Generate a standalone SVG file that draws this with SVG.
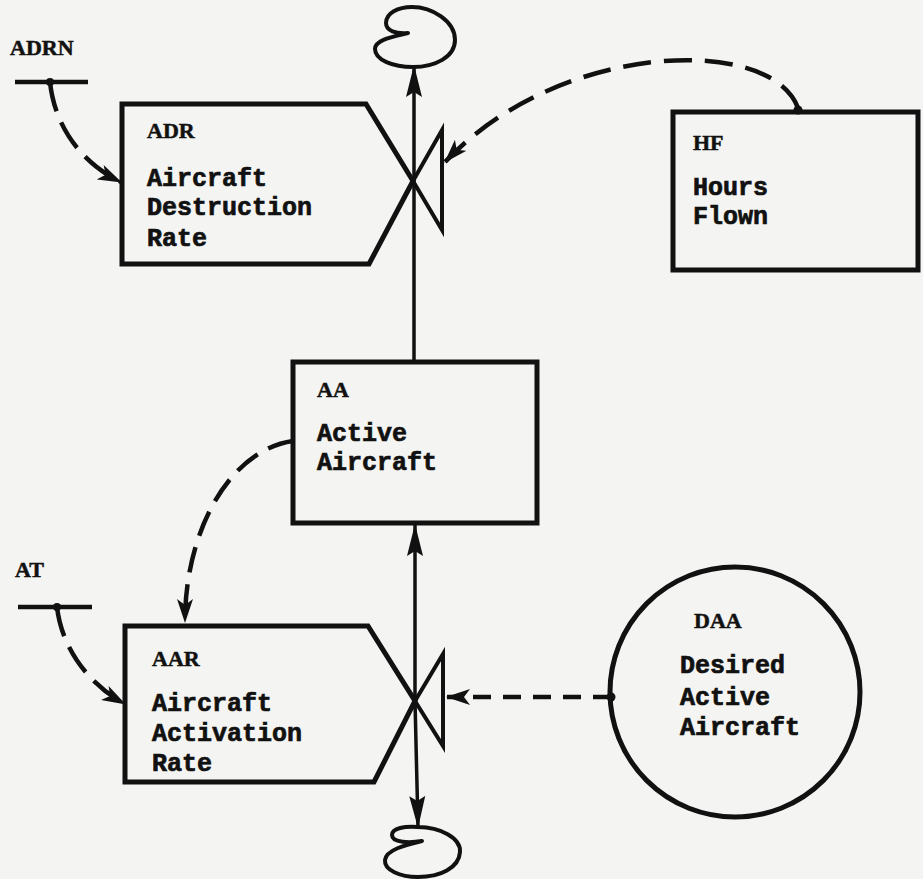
<svg xmlns="http://www.w3.org/2000/svg" width="923" height="879" viewBox="0 0 923 879">
  <style>
    .box { fill: none; stroke: #111; stroke-width: 5; stroke-linejoin: miter; }
    .valve { fill: none; stroke: #111; stroke-width: 4; stroke-linejoin: miter; }
    .flow { fill: none; stroke: #111; stroke-width: 3.5; }
    .info { fill: none; stroke: #111; stroke-width: 4.5; stroke-dasharray: 26 12; }
    .src { fill: none; stroke: #111; stroke-width: 4.5; }
    .cloud { fill: none; stroke: #111; stroke-width: 4; stroke-linejoin: round; }
    .dot { fill: #111; }
    .tag { font-family: "Liberation Serif", "Times New Roman", serif; font-weight: bold; font-size: 22px; fill: #111; stroke: #111; stroke-width: 0.5; }
    .desc { font-family: "Liberation Mono", "Courier New", monospace; font-weight: bold; font-size: 25px; fill: #111; stroke: #111; stroke-width: 0.7; }
  </style>
  <defs>
    <marker id="flowHead" viewBox="0 0 32 18" refX="31" refY="9" markerWidth="32" markerHeight="18" markerUnits="userSpaceOnUse" orient="auto">
      <path d="M32,9 L0,1 L5,9 L0,17 Z" fill="#111"/>
    </marker>
    <marker id="infoHead" viewBox="0 0 24 16" refX="23" refY="8" markerWidth="24" markerHeight="16" markerUnits="userSpaceOnUse" orient="auto">
      <path d="M24,8 L0,0 L6,8 L0,16 Z" fill="#111"/>
    </marker>
  </defs>

  <!-- paper -->
  <rect x="0" y="0" width="923" height="879" fill="#f4f4f2"/>

  <!-- sink cloud above the destruction valve -->
  <g id="cloud-top">
    <path class="cloud" d="M408,33 C396,34 386,31 386,23 C386,13 398,7 412,7 C432,7 455,21 455,40 C455,57 435,67 413,67 C393,67 375,60 375,49 C375,40 392,37 408,33 Z"/>
  </g>

  <!-- sink cloud below the activation valve -->
  <g id="cloud-bottom">
    <path class="cloud" d="M422,841 C410,843 392,843 392,835 C392,828 405,826 418,827 C440,827 461,838 460,852 C459,868 440,877 418,877 C400,877 384,870 385,860 C386,850 405,845 422,841 Z"/>
  </g>

  <!-- ADRN constant -->
  <g id="ADRN">
    <text class="tag" x="10" y="55">ADRN</text>
    <line class="src" x1="15" y1="82" x2="88" y2="82"/>
    <circle class="dot" cx="50" cy="82" r="4"/>
  </g>

  <!-- AT constant -->
  <g id="AT">
    <text class="tag" x="15" y="577">AT</text>
    <line class="src" x1="18" y1="607" x2="92" y2="607"/>
    <circle class="dot" cx="57" cy="607" r="4"/>
  </g>

  <!-- ADR rate with its valve -->
  <g id="ADR">
    <polygon class="box" points="122,104 366,104 413,181 369,264 122,264"/>
    <polygon class="valve" points="413,181 442,130 442,230"/>
    <text class="tag" x="147" y="138">ADR</text>
    <text class="desc" x="147" y="186">Aircraft</text>
    <text class="desc" x="147" y="215">Destruction</text>
    <text class="desc" x="147" y="246">Rate</text>
  </g>

  <!-- HF auxiliary -->
  <g id="HF">
    <rect class="box" x="673" y="112" width="245" height="158"/>
    <text class="tag" x="693" y="150">HF</text>
    <text class="desc" x="693" y="195">Hours</text>
    <text class="desc" x="693" y="224">Flown</text>
  </g>

  <!-- AA level -->
  <g id="AA">
    <rect class="box" x="293" y="362" width="244" height="161"/>
    <text class="tag" x="317" y="397">AA</text>
    <text class="desc" x="317" y="441">Active</text>
    <text class="desc" x="317" y="470">Aircraft</text>
  </g>

  <!-- AAR rate with its valve -->
  <g id="AAR">
    <polygon class="box" points="125,626 368,626 415,701 374,782 125,782"/>
    <polygon class="valve" points="415,701 443,654 443,746"/>
    <text class="tag" x="152" y="666">AAR</text>
    <text class="desc" x="152" y="711">Aircraft</text>
    <text class="desc" x="152" y="741">Activation</text>
    <text class="desc" x="152" y="771">Rate</text>
  </g>

  <!-- DAA goal -->
  <g id="DAA">
    <circle class="box" cx="735" cy="692" r="125"/>
    <text class="tag" x="694" y="628">DAA</text>
    <text class="desc" x="680" y="673">Desired</text>
    <text class="desc" x="680" y="705">Active</text>
    <text class="desc" x="680" y="735">Aircraft</text>
  </g>

  <!-- flows and information links -->
  <g id="connectors">
    <!-- material flows -->
    <path class="flow" d="M414,362 L414,66" marker-end="url(#flowHead)"/>
    <path class="flow" d="M415,701 L415,525" marker-end="url(#flowHead)"/>
    <path class="flow" d="M415,701 L418,827" marker-end="url(#flowHead)"/>

    <!-- information links -->
    <path class="info" style="stroke-dasharray:30 12" d="M50,82 C55,130 85,165 121,182" marker-end="url(#infoHead)"/>
    <path class="info" style="stroke-dasharray:30 12" d="M57,607 C62,650 90,685 125,704" marker-end="url(#infoHead)"/>
    <path class="info" style="stroke-dasharray:28 13" d="M798,108 C772,35 560,40 445,162" marker-end="url(#infoHead)"/>
    <circle class="dot" cx="798" cy="110" r="4.5"/>
    <path class="info" d="M293,441 C230,450 185,530 185,622" marker-end="url(#infoHead)"/>
    <path class="info" style="stroke-dasharray:18 12" d="M611,697 L447,697" marker-end="url(#infoHead)"/>
    <circle class="dot" cx="611" cy="697" r="4.5"/>
  </g>
</svg>
